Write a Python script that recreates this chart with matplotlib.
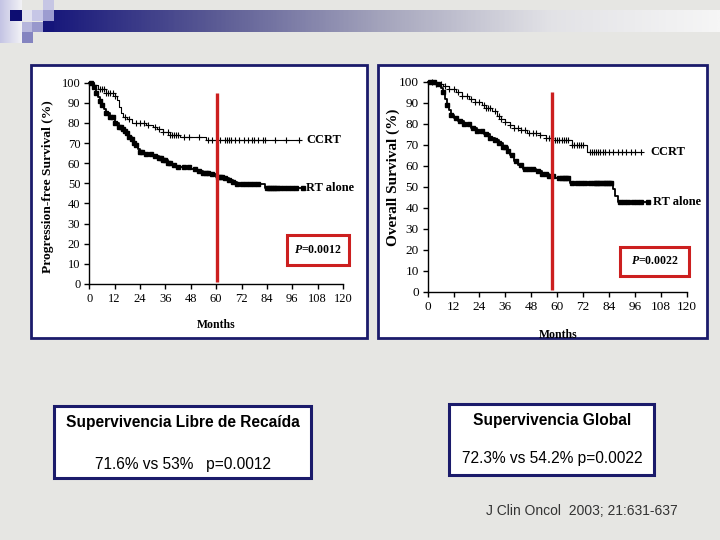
import matplotlib
matplotlib.use("Agg")
import matplotlib.pyplot as plt
import numpy as np
from matplotlib.colors import LinearSegmentedColormap
from matplotlib.patches import Rectangle

plt.rcParams["mathtext.fontset"] = "custom"
plt.rcParams["mathtext.it"] = "Liberation Serif:italic:bold"
plt.rcParams["mathtext.rm"] = "Liberation Serif:bold"

SERIF = "Liberation Serif"
SANS = "Liberation Sans"
NAVY = "#1b1b6b"
RED = "#cc1f1f"

# ---- data ----
pfs_ccrt_t = [0, 2, 4, 8, 12, 13, 14, 15, 16, 18, 20, 27, 30, 32, 35, 38, 43, 55, 99]
pfs_ccrt_s = [100, 99, 97, 95, 93.5, 91.5, 88, 85, 83, 82, 80, 79, 78, 77, 75.5, 74, 73, 71.6, 71.6]
pfs_ccrt_cens = [2, 5, 6, 7, 8, 9, 10, 11, 12, 17, 19, 22, 24, 26, 28, 31, 33, 35, 37, 38, 39, 40,
                 41, 42, 45, 47, 52, 56, 58, 62, 64, 65, 66, 67, 69, 71, 73, 75, 77, 78, 80, 82,
                 83, 88, 93, 99]

pfs_rt_t = [0, 2, 3, 4, 5, 6, 7, 8, 10, 12, 14, 16, 17, 18, 19, 20, 21, 22, 23, 24, 26, 30, 33,
            35, 37, 39, 41, 48, 51, 54, 57, 60, 64, 66, 68, 70, 83, 101]
pfs_rt_s = [100, 98, 95, 93, 91, 89, 87, 85, 83, 80, 78, 77, 76, 75, 73, 72, 70, 69, 67, 65.5,
            64.5, 63.5, 62.5, 61.5, 60, 59, 58, 57, 56, 55, 54.5, 53, 52.5, 51.5, 50.5, 49.5,
            47.5, 47.5]
pfs_rt_cens = [1, 2, 3, 5, 6, 8, 10, 11, 12, 14, 15, 16, 17, 18, 19, 20, 21, 22, 24, 25, 27, 29,
               31, 33, 34, 35, 36, 37, 38, 40, 42, 45, 47, 50, 52, 54, 55, 56, 58, 61, 62, 63,
               64, 66, 68, 70, 72, 74, 76, 78, 80, 84, 85, 86, 87, 88, 89, 90, 92, 94, 96, 98,
               101]

os_ccrt_t = [0, 4, 7, 10, 13, 16, 19, 22, 25, 27, 30, 32, 34, 36, 38, 40, 43, 46, 52, 55, 58,
             67, 74, 99]
os_ccrt_s = [100, 99, 98, 96.5, 95, 93.5, 92, 90.5, 89, 87.5, 86, 84, 82.5, 81, 79.5, 78, 77,
             75.8, 74.5, 73.5, 72.3, 70, 66.5, 66.5]
os_ccrt_cens = [2, 4, 6, 8, 10, 12, 14, 16, 18, 20, 22, 24, 26, 27, 28, 29, 31, 33, 34, 36, 38,
                40, 42, 43, 45, 47, 49, 50, 52, 55, 56, 57, 59, 60, 61, 62, 63, 64, 65, 67, 68,
                69, 70, 71, 72, 75, 76, 77, 78, 79, 80, 81, 82, 84, 86, 88, 90, 92, 94, 96, 99]

os_rt_t = [0, 4, 6, 7, 8, 9, 10, 11, 12, 14, 17, 20, 23, 26, 29, 31, 33, 35, 37, 38, 40, 42, 44,
           50, 53, 56, 59, 66, 86, 87, 88, 102]
os_rt_s = [100, 99, 97, 95, 92, 89, 86.5, 84.5, 83, 81.5, 80, 78, 76.5, 75, 73.5, 72.5, 71, 69,
           67, 65, 62.5, 60.5, 58.5, 57.5, 56, 55, 54.2, 52, 49, 45.5, 42.7, 42.7]
os_rt_cens = [1, 3, 5, 7, 9, 11, 13, 15, 17, 19, 21, 23, 25, 27, 29, 31, 33, 35, 36, 37, 39, 41,
              43, 45, 47, 49, 51, 53, 55, 56, 58, 61, 62, 63, 64, 65, 67, 69, 71, 73, 75, 77,
              78, 79, 80, 81, 82, 83, 84, 85, 89, 91, 93, 95, 97, 99, 102]

x_ticks = list(range(0, 121, 12))
y_ticks = list(range(0, 101, 10))


def step_value(times, surv, at):
    idx = np.searchsorted(times, at, side="right") - 1
    return np.asarray(surv)[idx]


def km_panel(ax, ccrt, rt, p_text, p_box, red_x, tick_size):
    (ct, cs, cc), (rt_t, rs, rc) = ccrt, rt
    ax.step(ct, cs, where="post", color="black", lw=0.8, clip_on=False)
    ax.plot(cc, step_value(ct, cs, cc), ls="none", marker="+", ms=4, mew=0.8,
            color="black", clip_on=False)
    ax.step(rt_t, rs, where="post", color="black", lw=1.3, clip_on=False)
    ax.plot(rc, step_value(rt_t, rs, rc), ls="none", marker="s", ms=2.4,
            color="black", clip_on=False)

    ax.set_xlim(0, 120)
    ax.set_ylim(0, 100)
    ax.set_xticks(x_ticks)
    ax.set_yticks(y_ticks)
    for side in ("top", "right"):
        ax.spines[side].set_visible(False)
    for side in ("left", "bottom"):
        ax.spines[side].set_linewidth(1.0)
    ax.tick_params(direction="out", length=3.5, width=1.0, pad=3, labelsize=tick_size)
    for lab in ax.get_xticklabels() + ax.get_yticklabels():
        lab.set_fontfamily(SERIF)
    ax.set_facecolor("none")

    ax.plot([red_x, red_x], [1, 95], color=RED, lw=2.4, clip_on=False, solid_capstyle="butt")

    x0, x1, y0, y1 = p_box
    ax.add_patch(Rectangle((x0, y0), x1 - x0, y1 - y0, facecolor="white", edgecolor=RED,
                           lw=2.2, clip_on=False))
    ax.text((x0 + x1) / 2, (y0 + y1) / 2, p_text, ha="center", va="center",
            fontsize=8.5, fontfamily=SERIF, fontweight="bold")


fig = plt.figure(figsize=(7.2, 5.4), dpi=100)
bg = fig.add_axes([0, 0, 1, 1])
bg.set_xlim(0, 720)
bg.set_ylim(540, 0)
bg.axis("off")
bg.add_patch(Rectangle((0, 0), 720, 540, facecolor="#e6e6e3", edgecolor="none"))

# header bar and squares
grad = LinearSegmentedColormap.from_list("hdr", ["#15157a", "#5a5a94", "#a4a4bc", "#e2e2e6", "#f6f6f6"])
bg.imshow(np.linspace(0, 1, 400)[None, :], cmap=grad, aspect="auto",
          extent=[43, 720, 32, 10], zorder=1)
bg.imshow(np.linspace(0, 1, 50)[None, :],
          cmap=LinearSegmentedColormap.from_list("pale", ["#c4c4e4", "#f2f2f6"]),
          aspect="auto", extent=[0, 22, 43, 0], zorder=1)
squares = [((10, 10), "#0d0d72"), ((22, 10), "#e2e2f0"), ((32, 10), "#c6c6e6"),
           ((43, 0), "#c6c6e4"), ((43, 10), "#9c9cd0"), ((22, 22), "#b6b6dc"),
           ((32, 22), "#9898cc"), ((43, 22), "#15157a"), ((22, 32), "#8484c0")]
for (sx, sy), col in squares:
    bg.add_patch(Rectangle((sx, sy), 11 if sx != 10 else 12, 11 if sy != 22 else 10,
                           facecolor=col, edgecolor="none", zorder=2))

# white panels
left_panel = Rectangle((31, 65), 336, 273, facecolor="white", edgecolor=NAVY, lw=2.0, zorder=2)
right_panel = Rectangle((378, 65), 329, 273, facecolor="white", edgecolor=NAVY, lw=2.0, zorder=2)
bg.add_patch(left_panel)
bg.add_patch(right_panel)

ax1 = fig.add_axes([89.3 / 720, (540 - 284) / 540, 253.7 / 720, 201.3 / 540])
ax2 = fig.add_axes([427.7 / 720, (540 - 291.7) / 540, 259 / 720, 209.7 / 540])

km_panel(ax1, (pfs_ccrt_t, pfs_ccrt_s, pfs_ccrt_cens), (pfs_rt_t, pfs_rt_s, pfs_rt_cens),
         r"$\mathit{P}$=0.0012", (93.4, 123, 9.4, 24.3), 60.5, 9)
km_panel(ax2, (os_ccrt_t, os_ccrt_s, os_ccrt_cens), (os_rt_t, os_rt_s, os_rt_cens),
         r"$\mathit{P}$=0.0022", (89.1, 121.2, 7.5, 21.5), 57.7, 9.5)

curve_font = dict(fontsize=9, fontfamily=SERIF, fontweight="bold", va="center")
ax1.text(102.5, 71.6, "CCRT", ha="left", **curve_font)
ax1.text(102.5, 47.5, "RT alone", ha="left", **curve_font)
ax2.text(103, 66.5, "CCRT", ha="left", **curve_font)
ax2.text(104.5, 42.7, "RT alone", ha="left", **curve_font)

lab_font = dict(fontfamily=SERIF, fontweight="bold", ha="center", va="center", zorder=5)
bg.text(48, 187, "Progression-free Survival (%)", rotation=90, fontsize=9.7, **lab_font)
bg.text(216, 325, "Months", fontsize=8.5, **lab_font)
bg.text(393, 177, "Overall Survival (%)", rotation=90, fontsize=11, **lab_font)
m2 = bg.text(558, 335, "Months", fontsize=8.5, **lab_font)
m2.set_clip_path(Rectangle((378, 65), 329, 272, transform=bg.transData))

# summary boxes
box_font = dict(fontsize=11.2, fontfamily=SANS, ha="center", va="center", zorder=5)
bg.add_patch(Rectangle((54, 406), 257, 72, facecolor="white", edgecolor=NAVY, lw=2.2, zorder=4))
bg.text(183, 422, "Supervivencia Libre de Recaída", fontweight="bold", **box_font)
bg.text(183, 464, "71.6% vs 53%   p=0.0012", **box_font)
bg.add_patch(Rectangle((449, 404), 205, 71, facecolor="white", edgecolor=NAVY, lw=2.2, zorder=4))
bg.text(552, 420, "Supervivencia Global", fontweight="bold", **box_font)
bg.text(552, 459, "72.3% vs 54.2% p=0.0022", **box_font)

bg.text(582, 511, "J Clin Oncol  2003; 21:631-637", fontsize=10, fontfamily=SANS,
        ha="center", va="center", color="#333333")

fig.savefig("out.png", dpi=100)
